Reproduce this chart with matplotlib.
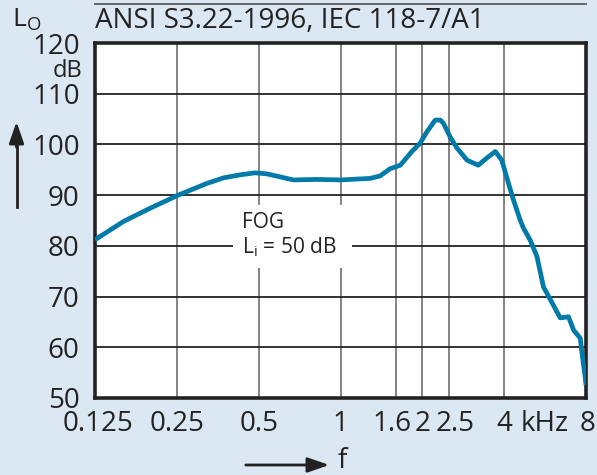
import matplotlib
matplotlib.use("Agg")
import matplotlib.pyplot as plt
from matplotlib.patches import Rectangle
from matplotlib.ticker import NullLocator

plt.rcParams['font.family'] = ['Open Sans', 'DejaVu Sans']
plt.rcParams['mathtext.default'] = 'regular'

# frequency response of the hearing aid (FOG, Li = 50 dB)
freq = [0.125, 0.159, 0.199, 0.253, 0.322, 0.371, 0.427, 0.485, 0.535, 0.60,
        0.671, 0.818, 0.996, 1.285, 1.40, 1.52, 1.66, 1.83, 1.96, 2.08,
        2.23, 2.33, 2.39, 2.53, 2.68, 2.92, 3.21, 3.45, 3.71, 3.92,
        4.15, 4.33, 4.58, 4.71, 4.99, 5.28, 5.58, 6.07, 6.43, 6.90,
        7.2, 7.62, 7.73, 7.94, 8.0]
level = [81.2, 84.8, 87.4, 90.0, 92.3, 93.4, 94.0, 94.4, 94.2, 93.6,
         93.0, 93.1, 93.0, 93.3, 93.8, 95.2, 95.9, 98.6, 100.2, 102.5,
         104.8, 104.8, 104.2, 101.5, 99.3, 96.9, 95.9, 97.3, 98.6, 96.9,
         92.3, 89.0, 85.1, 83.5, 81.1, 77.9, 71.9, 68.3, 65.8, 66.0,
         63.4, 61.8, 58.9, 54.2, 52.5]

x_ticks = [0.125, 0.25, 0.5, 1, 1.6, 2, 2.5, 4, 8]
x_labels = ["0.125", "0.25", "0.5", "1", "1.6", "2", "2.5", "4", "8"]
y_ticks = [50, 60, 70, 80, 90, 100, 110, 120]

bg = "#dbe7f2"
curve_col = "#007aa8"
ink = "#222222"

fig = plt.figure(figsize=(5.97, 4.75), dpi=100, facecolor=bg)
ax = fig.add_axes([95 / 597, 1 - 398 / 475, 491 / 597, 355 / 475])
ax.set_facecolor("white")

ax.set_xscale("log", base=2)
ax.set_xlim(0.125, 8)
ax.set_ylim(50, 120)
ax.set_xticks(x_ticks)
ax.set_xticklabels([])
ax.xaxis.set_minor_locator(NullLocator())
ax.set_yticks(y_ticks)
ax.tick_params(length=0, labelsize=20, colors=ink)
ax.tick_params(axis="y", pad=11)

# x labels drawn by hand so the crowded 1.6 / 2 / 2.5 group can be nudged apart
nudge = [2, 0, 0, 0, -3, 0, 5, 0, 1]
for f, lab, dx in zip(x_ticks, x_labels, nudge):
    ax.annotate(lab, xy=(f, 0), xycoords=ax.get_xaxis_transform(),
                xytext=(dx, -19), textcoords="offset points",
                ha="center", va="center", fontsize=20, color=ink)
ax.annotate("kHz", xy=(5.657, 0), xycoords=ax.get_xaxis_transform(),
            xytext=(0, -19), textcoords="offset points",
            ha="center", va="center", fontsize=20, color=ink)

# grid: vertical grey, horizontal dark
for f in x_ticks[1:-1]:
    ax.axvline(f, color="#7a7a7a", lw=1.3, zorder=1)
for v in y_ticks[1:-1]:
    ax.axhline(v, color=ink, lw=1.3, zorder=1)

for s in ax.spines.values():
    s.set_linewidth(2.6)
    s.set_color(ink)

ax.plot(freq, level, color=curve_col, lw=3.4, solid_joinstyle="round",
        solid_capstyle="butt", zorder=3)

# label box
ax.add_patch(Rectangle((0.281, 0.366), 0.242, 0.178, transform=ax.transAxes,
                       facecolor="white", edgecolor="none", zorder=2))
ax.text(0.299, 0.493, "FOG", transform=ax.transAxes, fontsize=15, color=ink,
        ha="left", va="center", zorder=4)
ax.text(0.299, 0.424, "L$_{i}$ = 50 dB", transform=ax.transAxes, fontsize=15,
        color=ink, ha="left", va="center", zorder=4)

# dB unit on y axis
ax.text(-0.026, 114.5, "dB", transform=ax.get_yaxis_transform(),
        fontsize=17, color=ink, ha="right", va="center")

# header
fig.text(95 / 597, 1 - 21 / 475, "ANSI S3.22-1996, IEC 118-7/A1",
         fontsize=20, color=ink, ha="left", va="center")
fig.add_artist(plt.Line2D([95 / 597, 586 / 597], [1 - 4 / 475, 1 - 4 / 475],
                          color="#666666", lw=1.4))
fig.text(12 / 597, 1 - 20 / 475, "L$_{O}$", fontsize=19, color=ink,
         ha="left", va="center")

# axis arrows
fig.add_artist(plt.Line2D([16.5 / 597, 16.5 / 597], [1 - 207 / 475, 1 - 140 / 475],
                          color=ink, lw=2))
ax.annotate("", xy=(16.5 / 597, 1 - 119 / 475), xytext=(16.5 / 597, 1 - 150 / 475),
            xycoords="figure fraction",
            arrowprops=dict(arrowstyle="-|>,head_length=1.3,head_width=0.45",
                            color=ink, lw=2))
ax.annotate("", xy=(332 / 597, 1 - 465 / 475), xytext=(243 / 597, 1 - 465 / 475),
            xycoords="figure fraction",
            arrowprops=dict(arrowstyle="-|>,head_length=1.3,head_width=0.45",
                            color=ink, lw=2))
fig.text(338 / 597, 1 - 461 / 475, "f", fontsize=20, color=ink,
         ha="left", va="center")

fig.savefig("out.png", dpi=100, facecolor=bg)
